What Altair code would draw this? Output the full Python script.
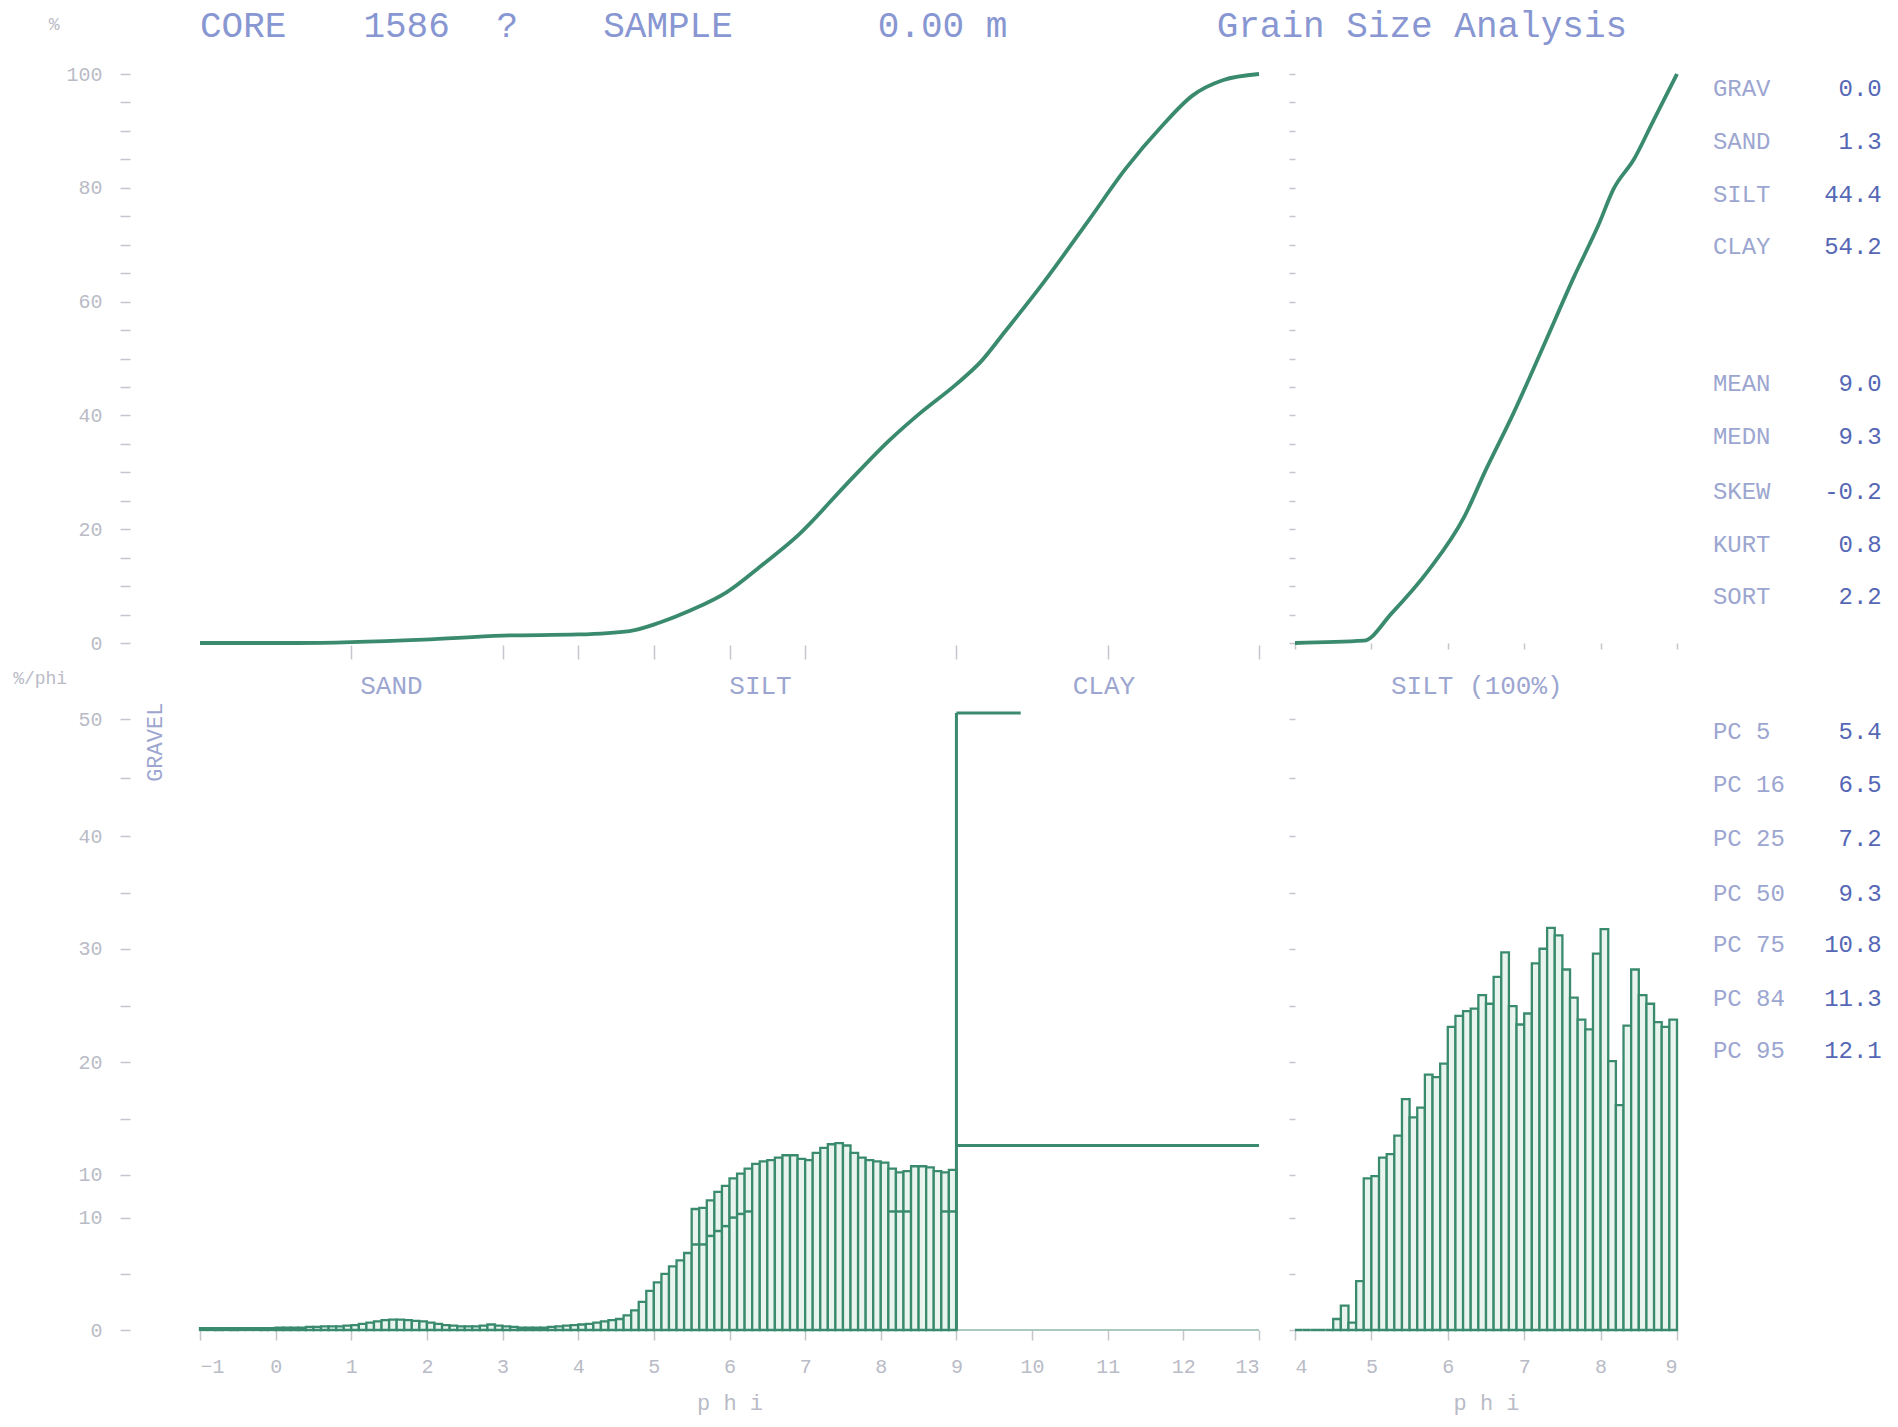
import altair as alt
import pandas as pd

GREEN = "#3a8b6e"
BAR_FILL = "#e9f4ef"
AX = "#b9bbc6"
BLUE = "#5567b5"
FAINT = "#9ca6d0"
FONT = "Liberation Mono"

# ---------------- data ----------------
# cumulative curve, whole sample (phi, cumulative %)
cum_phi = [-1.0, 0.28, 1.96, 3.0, 4.0, 4.68, 5.08, 5.48, 5.96, 6.44, 6.92, 7.56, 8.12,
           8.52, 9.0, 9.32, 9.64, 10.12, 10.76, 11.24, 11.72, 12.12, 12.52, 13.0]
cum_pct = [0, 0, 0.6, 1.3, 1.5, 2.1, 3.6, 5.7, 8.9, 13.8, 19.1, 28.1, 35.7,
           40.4, 45.5, 49.4, 54.7, 62.8, 74.5, 83.4, 90.9, 96.2, 98.9, 100]

# cumulative curve, silt fraction only (100 %)
silt_phi = [4.0, 4.9, 5.27, 5.75, 6.22, 6.49, 6.86, 7.25, 7.65, 7.97, 8.17, 8.44, 8.68, 9.0]
silt_pct = [0, 0.4, 5.3, 12.8, 22.3, 30.2, 40.4, 52.1, 64.3, 73.4, 79.8, 85.1, 91.5, 100]

# frequency histogram, whole sample, 0.1 phi classes from -1.0 to 9.0
ll_start = [round(-1.0 + 0.1 * i, 1) for i in range(100)]
ll_height = [
    0.15, 0.15, 0.15, 0.15, 0.15, 0.15, 0.15, 0.15, 0.15, 0.15,
    0.2, 0.2, 0.2, 0.2, 0.25, 0.25, 0.3, 0.3, 0.3, 0.35,
    0.4, 0.5, 0.6, 0.7, 0.8, 0.85, 0.85, 0.8, 0.75, 0.7,
    0.6, 0.5, 0.4, 0.35, 0.3, 0.3, 0.3, 0.35, 0.45, 0.35,
    0.3, 0.25, 0.2, 0.2, 0.2, 0.2, 0.25, 0.3, 0.35, 0.4,
    0.45, 0.5, 0.6, 0.7, 0.8, 0.9, 1.2, 1.6, 2.3, 3.2,
    3.9, 4.6, 5.2, 5.7, 6.3, 9.9, 10.0, 10.6, 11.3, 11.8,
    12.4, 12.8, 13.2, 13.6, 13.8, 13.9, 14.1, 14.3, 14.3, 14.0,
    13.9, 14.5, 14.9, 15.2, 15.3, 15.1, 14.5, 14.1, 13.9, 13.8,
    13.7, 13.2, 12.9, 13.0, 13.4, 13.4, 13.3, 13.0, 12.9, 13.1,
]
# lower (second) outline drawn inside the histogram
low_start = [5.5, 5.6, 5.7, 5.8, 5.9, 6.0, 6.1, 6.2, 8.1, 8.2, 8.3, 8.8, 8.9]
low_height = [7.0, 7.0, 7.7, 8.1, 8.5, 9.2, 9.5, 9.7, 9.7, 9.7, 9.7, 9.7, 9.7]

# clay block (phi 9 -> 13)
clay_x = [9.0, 9.0, 9.0]
clay_x2 = [9.0, 9.85, 13.0]
clay_y = [0.0, 50.5, 15.1]
clay_y2 = [50.5, 50.5, 15.1]

# frequency histogram, silt only, 0.1 phi classes from 4.0 to 9.0
lr_start = [round(4.0 + 0.1 * i, 1) for i in range(50)]
lr_height = [
    0, 0, 0, 0, 0, 0.9, 2.0, 0.6, 4.0, 12.4,
    12.6, 14.1, 14.4, 15.9, 18.9, 17.4, 18.2, 20.9, 20.7, 21.8,
    24.8, 25.7, 26.1, 26.3, 27.4, 26.7, 28.9, 30.9, 26.5, 25.0,
    25.9, 30.0, 31.2, 32.9, 32.3, 29.5, 27.2, 25.4, 24.6, 30.8,
    32.8, 22.0, 18.4, 24.9, 29.5, 27.4, 26.7, 25.2, 24.8, 25.4,
]

# texts
title_parts = ["CORE", "1586", "?", "SAMPLE", "0.00 m", "Grain Size Analysis"]
title_x = [-1.0, 1.16, 2.92, 4.33, 7.96, 12.44]
class_names = ["SAND", "SILT", "CLAY"]
class_x = [1.53, 6.41, 10.95]

stat_labels = ["GRAV", "SAND", "SILT", "CLAY", "MEAN", "MEDN", "SKEW", "KURT", "SORT"]
stat_values = ["0.0", "1.3", "44.4", "54.2", "9.0", "9.3", "-0.2", "0.8", "2.2"]
stat_rows = [97.4, 88.1, 78.7, 69.6, 45.5, 36.2, 26.6, 17.2, 8.1]

pc_labels = ["PC  5", "PC 16", "PC 25", "PC 50", "PC 75", "PC 84", "PC 95"]
pc_values = ["5.4", "6.5", "7.2", "9.3", "10.8", "11.3", "12.1"]
pc_rows = [48.9, 44.6, 40.2, 35.7, 31.5, 27.1, 22.8]

ll_tick_values = [0, 4.6, 9.2, 12.7, 17.3, 21.9, 26.5, 31.2, 35.8, 40.4, 45.2, 50]

# ---------------- helpers ----------------
DOM_L = [-1, 13]
DOM_R = [4, 9]


def X(dom, axis, field="x"):
    return alt.X(f"{field}:Q", scale=alt.Scale(domain=dom, nice=False, zero=False), axis=axis)


def Y(dom, axis, field="y"):
    return alt.Y(f"{field}:Q", scale=alt.Scale(domain=dom, nice=False, zero=False), axis=axis)


def text_layer(df, dom_x, dom_y, ax_x, ax_y, **kw):
    return alt.Chart(df).mark_text(font=FONT, **kw).encode(
        x=X(dom_x, ax_x), y=Y(dom_y, ax_y), text="t:N"
    )


# ---------------- upper left : cumulative curve ----------------
ul_ax_y = alt.Axis(values=list(range(0, 101, 5)),
                   labelExpr="datum.value % 20 == 0 ? datum.label : ''",
                   offset=70, tickSize=10, labelPadding=18, domain=False,
                   grid=False, title=None, labelFontSize=20)
ul_ax_x = alt.Axis(values=[1, 3, 4, 5, 6, 7, 9, 11, 13], labels=False, tickSize=14,
                   domain=False, grid=False, title=None, offset=2)

ul_curve = alt.Chart(pd.DataFrame({"x": cum_phi, "y": cum_pct})).mark_line(
    color=GREEN, strokeWidth=3.8, interpolate="monotone"
).encode(x=X(DOM_L, ul_ax_x), y=Y([0, 100], ul_ax_y))

ul_classes = text_layer(pd.DataFrame({"x": class_x, "y": [-7.6] * 3, "t": class_names}),
                        DOM_L, [0, 100], ul_ax_x, ul_ax_y,
                        fontSize=26, color=FAINT, align="center", baseline="middle")
ul_title = text_layer(pd.DataFrame({"x": title_x, "y": [111.4] * len(title_x), "t": title_parts}),
                      DOM_L, [0, 100], ul_ax_x, ul_ax_y,
                      fontSize=36, color="#8896d2", align="left", baseline="top")
ul_pct = text_layer(pd.DataFrame({"x": [-3.0], "y": [108.6], "t": ["%"]}),
                    DOM_L, [0, 100], ul_ax_x, ul_ax_y,
                    fontSize=18, color=AX, align="left", baseline="middle")

UL = alt.layer(ul_curve, ul_classes, ul_title, ul_pct).properties(width=1059, height=569)

# ---------------- upper right : silt cumulative ----------------
ur_ax_y = alt.Axis(values=list(range(0, 101, 5)), labels=False, tickSize=6,
                   domain=False, grid=False, title=None)
ur_ax_x = alt.Axis(values=[4, 5, 6, 7, 8, 9], labels=False, tickSize=6,
                   domain=False, grid=False, title=None)

ur_curve = alt.Chart(pd.DataFrame({"x": silt_phi, "y": silt_pct})).mark_line(
    color=GREEN, strokeWidth=3.8, interpolate="monotone"
).encode(x=X(DOM_R, ur_ax_x), y=Y([0, 100], ur_ax_y))

ur_label = text_layer(pd.DataFrame({"x": [6.38], "y": [-7.6], "t": ["SILT (100%)"]}),
                      DOM_R, [0, 100], ur_ax_x, ur_ax_y,
                      fontSize=26, color=FAINT, align="center", baseline="middle")
ur_stat_l = text_layer(pd.DataFrame({"x": [9.47] * len(stat_labels), "y": stat_rows, "t": stat_labels}),
                       DOM_R, [0, 100], ur_ax_x, ur_ax_y,
                       fontSize=24, color=FAINT, align="left", baseline="middle")
ur_stat_v = text_layer(pd.DataFrame({"x": [11.68] * len(stat_values), "y": stat_rows, "t": stat_values}),
                       DOM_R, [0, 100], ur_ax_x, ur_ax_y,
                       fontSize=24, color=BLUE, align="right", baseline="middle")

UR = alt.layer(ur_curve, ur_label, ur_stat_l, ur_stat_v).properties(width=382, height=569)

# ---------------- lower left : histogram ----------------
ll_label_expr = ("datum.value == 0 ? '0' : (datum.value == 9.2 || datum.value == 12.7) ? '10' : "
                 "datum.value == 21.9 ? '20' : datum.value == 31.2 ? '30' : "
                 "datum.value == 40.4 ? '40' : datum.value == 50 ? '50' : ''")
ll_ax_y = alt.Axis(values=ll_tick_values, labelExpr=ll_label_expr, offset=70, tickSize=10,
                   labelPadding=18, domain=False, grid=False, title=None, labelFontSize=20)
ll_ax_x = alt.Axis(values=list(range(-1, 14)), tickSize=10, labelPadding=16, domain=False,
                   grid=False, title="p h i", titleFontSize=22, titleColor=AX,
                   titleFont=FONT, titleFontWeight="normal", titlePadding=16, labelFontSize=20)

ll_bars = alt.Chart(pd.DataFrame({"x": ll_start, "y": ll_height})).transform_calculate(
    x2="datum.x + 0.1"
).mark_bar(fill=BAR_FILL, stroke=GREEN, strokeWidth=2.3).encode(
    x=X(DOM_L, ll_ax_x), x2="x2:Q", y=Y([0, 50], ll_ax_y), y2=alt.datum(0)
)
ll_low = alt.Chart(pd.DataFrame({"x": low_start, "y": low_height})).transform_calculate(
    x2="datum.x + 0.1"
).mark_rule(color=GREEN, strokeWidth=2.5).encode(
    x=X(DOM_L, ll_ax_x), x2="x2:Q", y=Y([0, 50], ll_ax_y)
)
ll_clay = alt.Chart(pd.DataFrame({"x": clay_x, "x2": clay_x2, "y": clay_y, "y2": clay_y2})).mark_rule(
    color=GREEN, strokeWidth=3
).encode(x=X(DOM_L, ll_ax_x), x2="x2:Q", y=Y([0, 50], ll_ax_y), y2="y2:Q")
ll_base = alt.Chart(pd.DataFrame({"x": [-1.0], "x2": [13.0], "y": [0.0]})).mark_rule(
    color="#8fb8a8", strokeWidth=1.5
).encode(x=X(DOM_L, ll_ax_x), x2="x2:Q", y=Y([0, 50], ll_ax_y))
ll_gravel = text_layer(pd.DataFrame({"x": [-1.59], "y": [48.1], "t": ["GRAVEL"]}),
                       DOM_L, [0, 50], ll_ax_x, ll_ax_y,
                       fontSize=22, color=FAINT, align="center", baseline="middle", angle=270)
ll_pphi = text_layer(pd.DataFrame({"x": [-3.47], "y": [53.3], "t": ["%/phi"]}),
                     DOM_L, [0, 50], ll_ax_x, ll_ax_y,
                     fontSize=18, color=AX, align="left", baseline="middle")

LL = alt.layer(ll_base, ll_bars, ll_low, ll_clay, ll_gravel, ll_pphi).properties(width=1059, height=611)

# ---------------- lower right : silt histogram ----------------
lr_ax_y = alt.Axis(values=ll_tick_values, labels=False, tickSize=6, domain=False,
                   grid=False, title=None)
lr_ax_x = alt.Axis(values=[4, 5, 6, 7, 8, 9], tickSize=10, labelPadding=16, domain=False,
                   grid=False, title="p h i", titleFontSize=22, titleColor=AX,
                   titleFont=FONT, titleFontWeight="normal", titlePadding=16, labelFontSize=20)

lr_bars = alt.Chart(pd.DataFrame({"x": lr_start, "y": lr_height})).transform_calculate(
    x2="datum.x + 0.1"
).mark_bar(fill=BAR_FILL, stroke=GREEN, strokeWidth=2.3).encode(
    x=X(DOM_R, lr_ax_x), x2="x2:Q", y=Y([0, 50], lr_ax_y), y2=alt.datum(0)
)
lr_pc_l = text_layer(pd.DataFrame({"x": [9.47] * len(pc_labels), "y": pc_rows, "t": pc_labels}),
                     DOM_R, [0, 50], lr_ax_x, lr_ax_y,
                     fontSize=24, color=FAINT, align="left", baseline="middle")
lr_pc_v = text_layer(pd.DataFrame({"x": [11.68] * len(pc_values), "y": pc_rows, "t": pc_values}),
                     DOM_R, [0, 50], lr_ax_x, lr_ax_y,
                     fontSize=24, color=BLUE, align="right", baseline="middle")

LR = alt.layer(lr_bars, lr_pc_l, lr_pc_v).properties(width=382, height=611)

chart = alt.concat(
    UL, UR, LL, LR, columns=2, bounds="flush",
    spacing=alt.RowColnumber(row=76, column=36)
).properties(
    padding={"left": 5, "top": 0, "right": 5, "bottom": 5},
    background="white",
).configure_view(
    strokeOpacity=0
).configure_axis(
    labelFont=FONT, labelColor=AX, tickColor="#c4c6ce", tickWidth=1.5
)

chart.save("out.html", embed_options={"renderer": "svg", "actions": False})
